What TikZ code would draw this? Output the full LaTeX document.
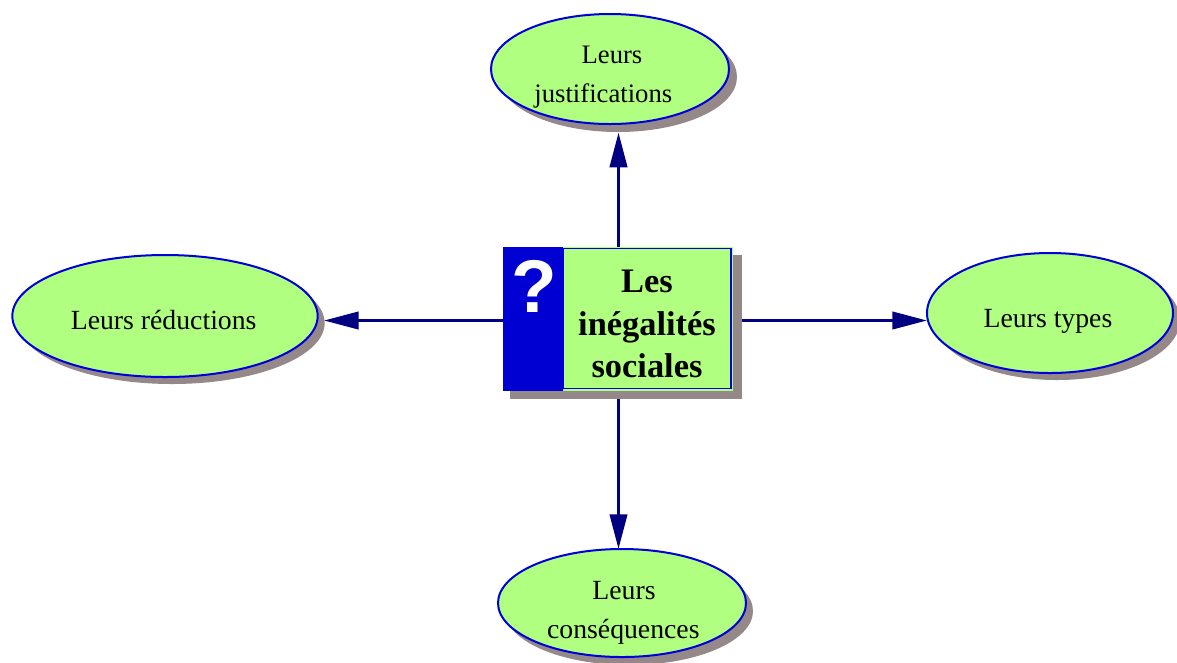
\documentclass[tikz,border=0pt]{standalone}
\usepackage{fontspec}
\setmainfont{Liberation Serif}
\usetikzlibrary{arrows.meta,shapes.geometric,backgrounds}
\definecolor{fillg}{RGB}{176,255,128}
\definecolor{edgeb}{RGB}{0,0,220}
\definecolor{arrowb}{RGB}{0,0,128}
\definecolor{shadowg}{RGB}{148,136,136}
\definecolor{qb}{RGB}{0,0,210}
\newcommand{\ovaltext}[2]{\raisebox{#1}[0pt][0pt]{\begin{tabular}{@{}c@{}}#2\end{tabular}}}
\tikzset{
 oval/.style={ellipse,draw=edgeb,fill=fillg,line width=1.5pt,inner sep=0pt,align=center,font=\fontsize{20.8}{29}\selectfont},
 shadeoval/.style={ellipse,fill=shadowg,inner sep=0pt},
 conn/.style={draw=arrowb,line width=2.3pt,-{Triangle[length=26pt,width=13pt]}}}
\begin{document}
\begin{tikzpicture}[x=0.75pt,y=-0.75pt]
\useasboundingbox (0,0) rectangle (1177,662);
% shadows
\node[shadeoval,minimum width=178.5pt,minimum height=82.5pt] (js) at (618,77) {};
\node[shadeoval,minimum width=229pt,minimum height=91.5pt] (rs) at (172,323) {};
\node[shadeoval,minimum width=184.5pt,minimum height=90pt] (ts) at (1057,320) {};
\node[shadeoval,minimum width=186pt,minimum height=81pt] (cs) at (629,611) {};
\node[fill=shadowg,minimum width=174pt,minimum height=108pt,inner sep=0pt] (ms) at (626,326.5) {};
% ovals
\node[oval,font=\fontsize{20}{29}\selectfont,minimum width=178.5pt,minimum height=82.5pt] (j) at (610,69) {\ovaltext{-10pt}{\hspace*{3pt}Leurs\\justifications\hspace*{10pt}}};
\node[oval,minimum width=229pt,minimum height=91.5pt] (r) at (165,316) {\ovaltext{-9.8pt}{\hspace*{-2pt}Leurs réductions}};
\node[oval,minimum width=184.5pt,minimum height=90pt] (t) at (1050,313) {\ovaltext{-10.4pt}{\hspace*{-3pt}Leurs types}};
\node[oval,minimum width=186pt,minimum height=81pt] (c) at (622,603) {\ovaltext{-11.2pt}{\hspace*{3pt}Leurs\\\hspace*{2pt}conséquences}};
% central box
\node[fill=fillg,minimum width=172.5pt,minimum height=108pt,inner sep=0pt] (m) at (618,319) {};
\node[draw=edgeb,line width=1pt,minimum width=126pt,minimum height=105pt,inner sep=0pt] (mb) at (647,318.5) {};
\node[fill=qb,minimum width=45pt,minimum height=108pt,inner sep=0pt] (qbox) at (533,319) {};
\node[font=\fontsize{56}{56}\selectfont,text=white] (q) at (534,286) {\fontspec{Liberation Sans}\bfseries ?};
\node[align=center,font=\fontsize{25.8}{32}\selectfont\bfseries] (l) at (647,324) {Les\\inégalités\\sociales};
% connectors
\coordinate (mc) at (618.5,320.5);
\begin{scope}[on background layer]
\fill[white] (0,0) rectangle (1177,662);
\draw[conn,shorten >=5.7pt] (mc) -- (mc |- j.south);
\draw[conn,shorten >=4pt] (mc) -- (mc -| r.east);
\draw[conn,shorten >=-0.7pt] (mc) -- (mc -| t.west);
\draw[conn,shorten >=-0.7pt] (mc) -- (mc |- c.north);
\end{scope}
\end{tikzpicture}
\end{document}
